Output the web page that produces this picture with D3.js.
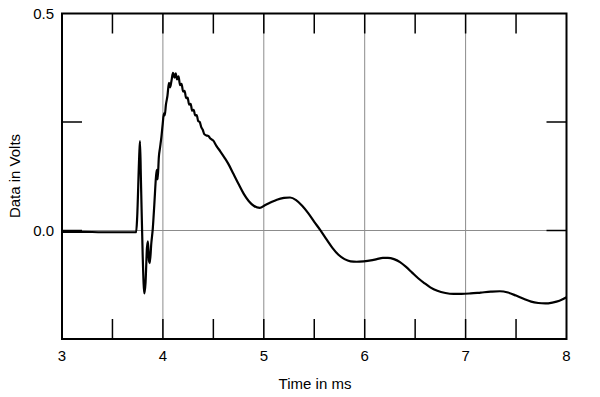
<!DOCTYPE html>
<html>
<head>
<meta charset="utf-8">
<script src="https://cdn.jsdelivr.net/npm/d3@7"></script>
<style>
  body { margin: 0; background: #fff; }
  svg { display: block; font-family: "Liberation Sans", Arial, sans-serif; }
</style>
</head>
<body>
<svg id="chart" width="600" height="397"></svg>
<script>
// impulse response
const timeMs = [
  3.00, 3.20, 3.40, 3.60, 3.720, 3.735, 3.745, 3.765, 3.773, 3.782, 3.800, 3.816, 3.828,
  3.842, 3.852, 3.862, 3.870, 3.885, 3.900, 3.915, 3.932, 3.940, 3.948,
  3.960, 3.971, 3.985, 3.998, 4.010, 4.018, 4.030, 4.045, 4.060, 4.072,
  4.085, 4.100, 4.115, 4.127, 4.140, 4.155, 4.170, 4.185, 4.200, 4.215,
  4.230, 4.245, 4.260, 4.275, 4.290, 4.305, 4.320, 4.335, 4.350, 4.365,
  4.380, 4.395, 4.410, 4.430, 4.450, 4.470, 4.500, 4.530, 4.570, 4.610,
  4.650, 4.700, 4.750, 4.800, 4.850, 4.900, 4.960, 5.010, 5.070, 5.130,
  5.200, 5.260, 5.320, 5.380, 5.440, 5.500, 5.560, 5.620, 5.680, 5.740,
  5.800, 5.860, 5.920, 5.990, 6.060, 6.120, 6.180, 6.230, 6.290, 6.350,
  6.410, 6.470, 6.530, 6.590, 6.650, 6.720, 6.800, 6.880, 6.960, 7.050, 7.150,
  7.250, 7.340, 7.420, 7.500, 7.580, 7.650, 7.720, 7.790, 7.860, 7.930,
  8.000
];
const volts = [
  -0.003, -0.003, -0.004, -0.004, -0.004, -0.004, 0.030, 0.170, 0.206, 0.120, -0.060, -0.145, -0.120,
  -0.040, -0.025, -0.070, -0.075, -0.030, 0.005, 0.060, 0.125, 0.140, 0.118,
  0.170, 0.190, 0.215, 0.245, 0.270, 0.265, 0.290, 0.310, 0.340, 0.330,
  0.345, 0.363, 0.352, 0.362, 0.348, 0.355, 0.335, 0.338, 0.320, 0.322,
  0.305, 0.306, 0.290, 0.292, 0.276, 0.278, 0.265, 0.266, 0.252, 0.250,
  0.238, 0.232, 0.222, 0.219, 0.218, 0.212, 0.207, 0.195, 0.182, 0.168,
  0.153, 0.130, 0.107, 0.085, 0.068, 0.057, 0.052, 0.058, 0.065, 0.071,
  0.075, 0.076, 0.070, 0.057, 0.040, 0.020, 0.001, -0.020, -0.040, -0.056,
  -0.066, -0.071, -0.072, -0.071, -0.069, -0.066, -0.063, -0.063, -0.066, -0.073,
  -0.084, -0.097, -0.110, -0.121, -0.131, -0.139, -0.144, -0.146, -0.146, -0.145, -0.143,
  -0.141, -0.140, -0.143, -0.150, -0.158, -0.164, -0.167, -0.168, -0.166, -0.162,
  -0.154
];
const xTickLabels = [3, 4, 5, 6, 7, 8];
const yTickLabels = [0.0, 0.5];
const xGrid = [4, 5, 6, 7];
const yGrid = [0.0];

const margin = {top: 13.5, right: 33.5, bottom: 58, left: 62};
const width = 600 - margin.left - margin.right;
const height = 397 - margin.top - margin.bottom;

const svg = d3.select('#chart');
const g = svg.append('g').attr('transform', `translate(${margin.left},${margin.top})`);

const x = d3.scaleLinear().domain([3, 8]).range([0, width]);
const y = d3.scaleLinear().domain([-0.25, 0.5]).range([height, 0]);

// grid
g.append('g').selectAll('line').data(xGrid).join('line')
  .attr('x1', d => x(d)).attr('x2', d => x(d))
  .attr('y1', 0).attr('y2', height)
  .attr('stroke', '#8c8c8c').attr('stroke-width', 1);
g.append('g').selectAll('line').data(yGrid).join('line')
  .attr('x1', 0).attr('x2', width)
  .attr('y1', d => y(d)).attr('y2', d => y(d))
  .attr('stroke', '#8c8c8c').attr('stroke-width', 1);

// inner ticks on all four sides
const tickLen = 20;
const xMinor = d3.range(3.5, 8, 0.5);
const yMinor = d3.range(-0.25, 0.5, 0.25).filter(v => v > -0.25);
const ticks = g.append('g').attr('stroke', '#000').attr('stroke-width', 1.5);
ticks.selectAll('.tb').data(xMinor).join('line')
  .attr('x1', d => x(d)).attr('x2', d => x(d))
  .attr('y1', height).attr('y2', height - tickLen);
ticks.selectAll('.tt').data(xMinor).join('line')
  .attr('x1', d => x(d)).attr('x2', d => x(d))
  .attr('y1', 0).attr('y2', tickLen);
ticks.selectAll('.tl').data(yMinor).join('line')
  .attr('x1', 0).attr('x2', tickLen)
  .attr('y1', d => y(d)).attr('y2', d => y(d));
ticks.selectAll('.tr').data(yMinor).join('line')
  .attr('x1', width).attr('x2', width - tickLen)
  .attr('y1', d => y(d)).attr('y2', d => y(d));

// data line
const pts = timeMs.map((t, i) => [t, volts[i]]);
const line = d3.line()
  .x(d => x(d[0]))
  .y(d => y(d[1]))
  .curve(d3.curveMonotoneX);
g.append('path')
  .datum(pts)
  .attr('fill', 'none')
  .attr('stroke', '#000')
  .attr('stroke-width', 2.2)
  .attr('stroke-linejoin', 'round')
  .attr('d', line);

// frame
g.append('rect')
  .attr('width', width).attr('height', height)
  .attr('fill', 'none').attr('stroke', '#000').attr('stroke-width', 2);

// tick labels
g.append('g').attr('font-size', 15).attr('text-anchor', 'middle')
  .selectAll('text').data(xTickLabels).join('text')
  .attr('x', d => x(d)).attr('y', height + 22)
  .text(d => d);
g.append('g').attr('font-size', 15).attr('text-anchor', 'end')
  .selectAll('text').data(yTickLabels).join('text')
  .attr('x', -8).attr('y', d => y(d) + 5)
  .text(d => d3.format('.1f')(d));

// axis titles
svg.append('text')
  .attr('x', 315).attr('y', 389)
  .attr('text-anchor', 'middle').attr('font-size', 15)
  .text('Time in ms');
svg.append('text')
  .attr('transform', 'translate(20,176) rotate(-90)')
  .attr('text-anchor', 'middle').attr('font-size', 15)
  .text('Data in Volts');
</script>
</body>
</html>
